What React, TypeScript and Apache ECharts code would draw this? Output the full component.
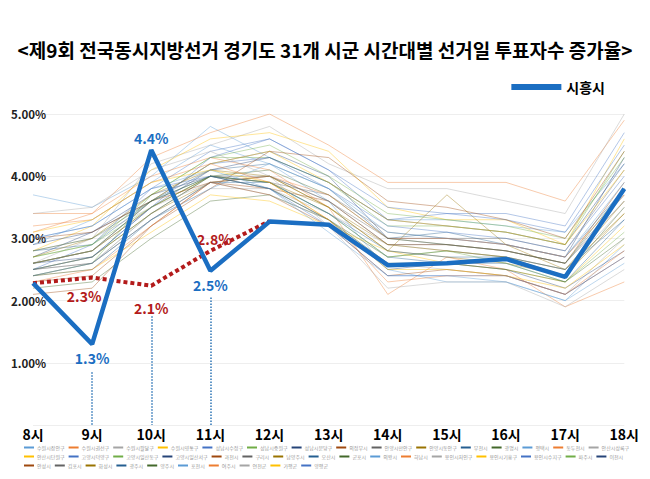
import React, { useEffect, useRef } from "react";
import * as echarts from "echarts";

const hours = ["8시", "9시", "10시", "11시", "12시", "13시", "14시", "15시", "16시", "17시", "18시"];
const siheung = [2.28, 1.3, 4.42, 2.48, 3.27, 3.22, 2.57, 2.6, 2.67, 2.38, 3.8];
const average = [2.28, 2.37, 2.24, 2.8, 3.28];
const averageLabels = ["", "2.3%", "2.1%", "2.8%", ""];
const siheungLabels = ["", "1.3%", "4.4%", "2.5%", "", "", "", "", "", "", ""];

const cityNames = [
  "수원시장안구", "수원시권선구", "수원시팔달구", "수원시영통구", "성남시수정구", "성남시중원구",
  "성남시분당구", "의정부시", "안양시만안구", "안양시동안구", "부천시", "광명시", "평택시", "동두천시",
  "안산시상록구", "안산시단원구", "고양시덕양구", "고양시일산동구", "고양시일산서구", "과천시",
  "구리시", "남양주시", "오산시", "군포시", "의왕시", "하남시", "용인시처인구", "용인시기흥구",
  "용인시수지구", "파주시", "이천시", "안성시", "김포시", "화성시", "광주시", "양주시", "포천시",
  "여주시", "연천군", "가평군", "양평군",
];

const cityValues: number[][] = [
  [3.7, 3.5, 4.0, 4.8, 4.3, 3.9, 3.3, 3.3, 3.2, 3.1, 4.2],
  [3.4, 3.4, 4.3, 4.7, 5.0, 4.5, 3.9, 3.9, 3.9, 3.6, 4.9],
  [2.6, 3.0, 4.2, 4.5, 4.8, 4.2, 3.8, 3.8, 3.6, 3.4, 5.0],
  [2.8, 3.2, 4.1, 4.6, 4.7, 4.4, 3.5, 3.3, 3.3, 2.9, 4.6],
  [2.5, 2.9, 3.8, 4.4, 4.6, 4.1, 3.3, 3.4, 3.4, 3.2, 4.7],
  [2.4, 2.6, 3.7, 4.3, 4.3, 3.9, 3.2, 3.2, 3.1, 2.9, 4.4],
  [2.7, 3.1, 3.6, 4.2, 4.4, 4.0, 3.0, 3.0, 2.9, 2.7, 4.3],
  [2.3, 2.4, 3.2, 3.9, 3.8, 3.6, 2.9, 2.9, 2.8, 2.6, 3.9],
  [2.6, 2.8, 3.5, 4.0, 3.9, 3.7, 3.1, 3.0, 3.0, 2.8, 4.1],
  [2.5, 2.7, 3.4, 3.9, 4.0, 3.5, 2.8, 3.7, 2.9, 2.5, 3.6],
  [2.8, 2.9, 3.6, 4.1, 4.2, 3.8, 3.0, 3.1, 2.9, 2.7, 3.8],
  [2.2, 2.3, 3.0, 3.6, 3.7, 3.3, 2.7, 2.8, 2.7, 2.4, 3.5],
  [2.9, 3.3, 3.9, 4.5, 4.2, 3.6, 2.5, 2.3, 2.3, 2.0, 2.9],
  [3.1, 3.4, 4.0, 4.3, 4.1, 3.5, 2.1, 2.7, 2.5, 1.9, 2.3],
  [2.5, 2.6, 3.3, 3.8, 3.8, 3.4, 2.9, 2.8, 2.7, 2.5, 3.5],
  [2.4, 2.5, 3.1, 3.7, 3.6, 3.2, 2.8, 2.6, 2.5, 2.3, 3.2],
  [2.6, 2.8, 3.6, 4.2, 4.3, 3.8, 3.2, 3.1, 3.0, 2.8, 4.0],
  [2.7, 2.9, 3.7, 4.3, 4.5, 4.0, 3.4, 3.3, 3.2, 3.0, 4.3],
  [2.6, 2.7, 3.5, 4.1, 4.3, 3.9, 3.3, 3.2, 3.1, 2.9, 4.2],
  [2.1, 2.2, 3.2, 3.8, 4.4, 4.3, 3.6, 3.5, 3.3, 3.0, 4.4],
  [2.5, 2.6, 3.4, 4.0, 4.0, 3.6, 2.9, 2.9, 2.8, 2.6, 3.7],
  [2.6, 2.8, 3.5, 4.0, 3.9, 3.5, 2.8, 2.7, 2.6, 2.4, 3.4],
  [2.4, 2.5, 3.3, 3.9, 3.9, 3.4, 2.7, 2.6, 2.6, 2.3, 3.3],
  [2.5, 2.7, 3.4, 4.0, 4.1, 3.7, 3.0, 2.9, 2.8, 2.6, 3.8],
  [2.4, 2.6, 3.3, 3.8, 4.2, 3.8, 3.1, 3.0, 2.9, 2.7, 3.9],
  [2.3, 2.5, 3.2, 3.9, 4.0, 3.7, 3.0, 3.0, 2.9, 2.7, 3.7],
  [2.8, 3.0, 3.5, 3.9, 3.7, 3.3, 2.6, 2.5, 2.4, 2.1, 3.0],
  [2.6, 2.8, 3.6, 4.2, 4.4, 3.9, 3.3, 3.2, 3.1, 2.9, 4.1],
  [2.5, 2.7, 3.5, 4.3, 4.6, 4.1, 3.5, 3.4, 3.3, 3.1, 4.5],
  [2.7, 2.9, 3.5, 4.0, 3.9, 3.4, 2.7, 2.8, 2.6, 2.3, 3.1],
  [2.9, 3.1, 3.7, 4.0, 3.8, 3.3, 2.5, 2.6, 2.5, 2.2, 2.8],
  [3.0, 3.1, 3.6, 3.9, 3.7, 3.2, 2.4, 2.5, 2.4, 2.1, 2.7],
  [2.4, 2.6, 3.3, 3.9, 4.0, 3.6, 3.0, 2.9, 2.8, 2.6, 3.6],
  [2.7, 3.0, 3.7, 4.1, 4.0, 3.5, 2.9, 2.8, 2.7, 2.5, 3.4],
  [2.6, 2.8, 3.6, 4.0, 3.9, 3.4, 2.8, 2.7, 2.7, 2.5, 3.3],
  [2.8, 3.0, 3.6, 4.0, 3.8, 3.3, 2.6, 2.6, 2.5, 2.3, 3.0],
  [3.0, 3.2, 3.8, 4.1, 3.8, 3.1, 2.4, 2.4, 2.3, 2.0, 2.6],
  [3.2, 3.3, 3.9, 4.2, 3.9, 3.3, 2.3, 2.4, 2.4, 2.1, 2.8],
  [3.4, 3.5, 4.1, 4.4, 4.0, 3.2, 2.2, 2.3, 2.3, 1.9, 2.5],
  [3.1, 3.3, 3.9, 4.1, 3.9, 3.3, 2.5, 2.5, 2.4, 2.2, 2.9],
  [3.0, 3.2, 3.8, 4.0, 3.8, 3.2, 2.4, 2.4, 2.4, 2.1, 2.7],
];

const palette = ["#5b9bd5", "#ed7d31", "#a5a5a5", "#ffc000", "#4472c4", "#70ad47", "#264478", "#9e480e", "#636363", "#997300", "#255e91", "#43682b"];

export default function App() {
  const ref = useRef<HTMLDivElement>(null);
  useEffect(() => {
    const chart = echarts.init(ref.current!, null, { renderer: "svg" });
    const font = "'Noto Sans CJK KR', 'Noto Sans', sans-serif";
    const bgSeries = cityNames.map((name, i) => ({
      name,
      type: "line",
      data: cityValues[i],
      symbol: "none",
      silent: true,
      z: 1,
      lineStyle: { width: 1, color: palette[i % palette.length], opacity: 0.4 },
      itemStyle: { color: palette[i % palette.length] },
    }));
    chart.setOption({
      animation: false,
      textStyle: { fontFamily: font },
      title: {
        text: "<제9회 전국동시지방선거 경기도 31개 시군 시간대별 선거일 투표자수 증가율>",
        left: "center",
        top: 27,
        textStyle: { fontSize: 19, fontWeight: "bold", color: "#000", fontFamily: font },
      },
      legend: [
        {
          data: ["시흥시"],
          right: 32,
          top: 67,
          itemWidth: 50,
          itemHeight: 6,
          itemGap: 10,
          icon: "rect",
          textStyle: { fontSize: 14, fontWeight: "bold", color: "#000" },
        },
        {
          data: cityNames,
          left: 16,
          top: 437,
          width: 610,
          itemWidth: 10,
          itemHeight: 2,
          itemGap: 4,
          padding: 0,
          icon: "rect",
          textStyle: { fontSize: 5, color: "#999", padding: [0, 0, 0, -2] },
        },
      ],
      grid: { left: 22, right: 10, top: 106, bottom: 46, containLabel: false },
      xAxis: {
        type: "category",
        data: hours,
        boundaryGap: false,
        axisLine: { show: false },
        axisTick: { show: false },
        axisLabel: { fontSize: 14, fontWeight: "bold", color: "#000", margin: 2 },
      },
      yAxis: {
        type: "value",
        min: 0,
        max: 5,
        interval: 1,
        axisLabel: {
          fontSize: 11.5,
          fontWeight: "bold",
          color: "#222",
          formatter: (v: number) => (v === 0 ? "" : v.toFixed(2) + "%"),
          margin: -2,
          align: "left",
          padding: [0, 0, 0, -24],
        },
        splitLine: { lineStyle: { color: "#eeeeee" } },
        axisLine: { show: false },
      },
      series: [
        ...bgSeries,
        {
          name: "평균",
          type: "line",
          data: average.map((v, i) => ({
            value: v,
            label: {
              show: averageLabels[i] !== "",
              formatter: averageLabels[i],
              position: i === 3 ? "top" : "bottom",
              offset: i === 3 ? [4, 0] : i === 1 ? [-8, 6] : [0, 10],
            },
          })),
          symbol: "circle",
          symbolSize: 0.1,
          showSymbol: true,
          z: 5,
          lineStyle: { width: 4, color: "#b31b1b", type: [4, 3] },
          itemStyle: { color: "#b31b1b" },
          label: { fontSize: 14, fontWeight: "bold", color: "#b31b1b" },
        },
        {
          name: "시흥시",
          type: "line",
          data: siheung.map((v, i) => ({
            value: v,
            label: {
              show: siheungLabels[i] !== "",
              formatter: siheungLabels[i],
              position: i === 2 ? "top" : "bottom",
              offset: [0, i === 2 ? 0 : 2],
            },
          })),
          symbol: "circle",
          symbolSize: 0.1,
          showSymbol: true,
          z: 6,
          lineStyle: { width: 4.5, color: "#1b6ec2" },
          itemStyle: { color: "#1b6ec2" },
          label: { fontSize: 14, fontWeight: "bold", color: "#1b6ec2" },
          markLine: {
            silent: true,
            symbol: "none",
            label: { show: false },
            lineStyle: { color: "#2e75b6", type: "dotted", width: 1.5 },
            data: [
              [{ coord: ["9시", 0.85] }, { coord: ["9시", 0] }],
              [{ coord: ["10시", 1.75] }, { coord: ["10시", 0] }],
              [{ coord: ["11시", 2.05] }, { coord: ["11시", 0] }],
            ],
          },
        },
      ],
    });
    return () => chart.dispose();
  }, []);
  return <div ref={ref} style={{ width: 634, height: 463 }} />;
}
